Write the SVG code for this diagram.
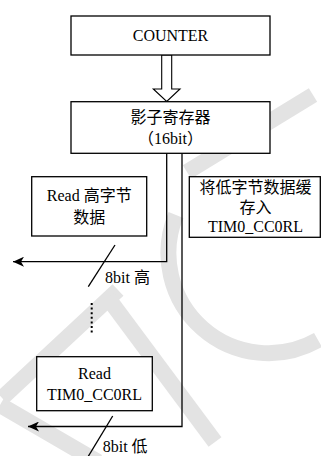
<svg xmlns="http://www.w3.org/2000/svg" width="321" height="456" viewBox="0 0 321 456">
<style>
.box{fill:#fff;stroke:#000;stroke-width:1.3}
.ln{fill:none;stroke:#000;stroke-width:1.3}
.t{font-family:'Liberation Serif','Noto Sans CJK SC',serif;font-size:16px;fill:#000;text-anchor:middle}
.l{font-family:'Liberation Serif','Noto Sans CJK SC',serif;font-size:16px;fill:#000}
.wm{fill:none;stroke:#e3e3e3;stroke-width:16}
</style>
<defs>
<marker id="ah" markerWidth="12" markerHeight="10" refX="11" refY="5" orient="auto" markerUnits="userSpaceOnUse">
<path d="M0,0 L11,5 L0,10 L3,5 Z" fill="#000"/>
</marker>
</defs>
<g id="watermark">
<path class="wm" d="M313,95 L187,172"/>
<path class="wm" d="M176,215 A100,100 0 0 0 318,340"/>
<path class="wm" d="M118,290 L2,398"/>
<path class="wm" d="M108,298 L215,442"/>
<path class="wm" d="M0,405 L98,462"/>
</g>
<g id="connectors">
<polygon points="161.7,55 171.7,55 171.7,89 180,89 166.7,101.5 153.3,89 161.7,89" fill="#fff" stroke="#000" stroke-width="1.1"/>
<polyline class="ln" points="166.7,153.3 166.7,261.7 13,261.7" marker-end="url(#ah)"/>
<polyline class="ln" points="182,153.3 182,426.5 28,426.5" marker-end="url(#ah)"/>
<line class="ln" x1="115" y1="245" x2="88.3" y2="286.7"/>
<line class="ln" x1="112.7" y1="416" x2="87.3" y2="458"/>
<line x1="91.7" y1="303" x2="91.7" y2="334" stroke="#000" stroke-width="2" stroke-dasharray="2 2.6"/>
<text class="l" x="105" y="283.3">8bit 高</text>
<text class="l" x="102.7" y="451.5">8bit 低</text>
</g>
<g id="counter">
<rect class="box" x="71" y="16" width="199" height="39"/>
<text class="t" x="170.5" y="41">COUNTER</text>
</g>
<g id="shadow">
<rect class="box" x="71" y="101.7" width="199" height="51.6"/>
<text class="t" x="170.5" y="122.5">影子寄存器</text>
<text class="t" x="170.5" y="143.8">（16bit）</text>
</g>
<g id="readhigh">
<rect class="box" x="31.7" y="176.7" width="115" height="59.3"/>
<text class="t" x="89.2" y="200.5">Read 高字节</text>
<text class="t" x="89.2" y="222.5">数据</text>
</g>
<g id="storelow">
<rect class="box" x="189.3" y="176.7" width="131" height="60.6"/>
<text class="t" x="255.5" y="192.5">将低字节数据缓</text>
<text class="t" x="255.5" y="212.5">存入</text>
<text class="t" x="255.5" y="232">TIM0_CC0RL</text>
</g>
<g id="readlow">
<rect class="box" x="36.7" y="356.7" width="115.6" height="54"/>
<text class="t" x="94.5" y="378.6">Read</text>
<text class="t" x="94.5" y="399.6">TIM0_CC0RL</text>
</g>
</svg>
